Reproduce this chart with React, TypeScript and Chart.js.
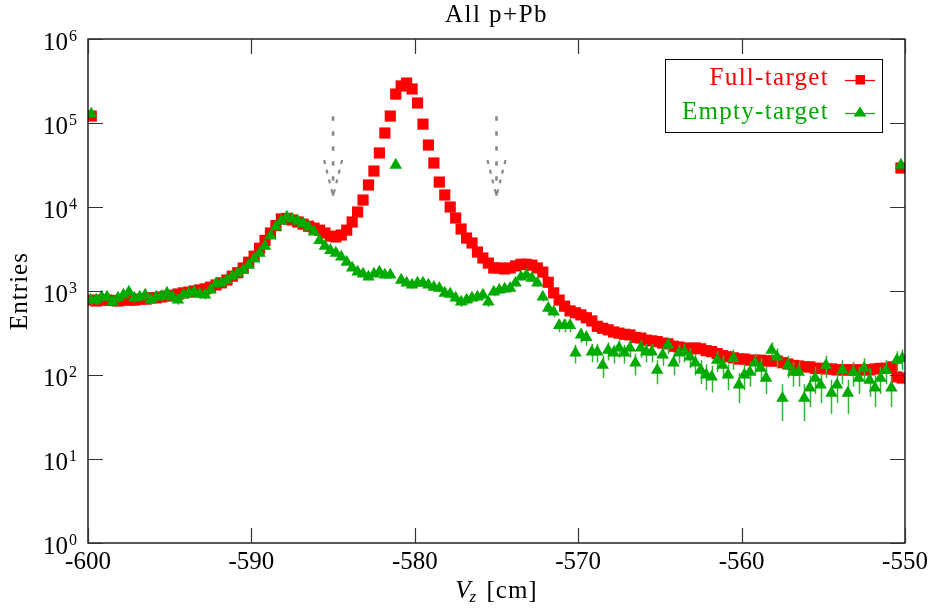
import React, { useEffect, useRef } from "react";
import { Chart, registerables } from "chart.js";

Chart.register(...registerables);

// ---------------- data ----------------
const X_MIN = -600;
const X_MAX = -550;
const BIN_WIDTH = 1 / 3;
const Y_MIN = 1;
const Y_MAX = 1e6;
const X_TICKS = [-600, -590, -580, -570, -560, -550];
const Y_EXPONENTS = [0, 1, 2, 3, 4, 5, 6];

const TITLE = "All p+Pb";
const Y_TITLE = "Entries";
const X_TITLE_MAIN = "V";
const X_TITLE_SUB = "z";
const X_TITLE_UNIT = " [cm]";
const LEGEND_LABELS = ["Full-target", "Empty-target"];

const fullTarget = [
  780, 760, 780, 780, 770, 760, 780, 780, 780, 800,
  800, 830, 830, 850, 870, 890, 920, 950, 970, 1000,
  1030, 1060, 1110, 1180, 1250, 1350, 1500, 1650, 1880, 2200,
  2600, 3230, 4000, 4900, 6000, 7200, 7300, 7000, 6630, 6250,
  5900, 5600, 5300, 4900, 4500, 4400, 4640, 5300, 6630, 8720,
  12100, 18300, 26800, 44000, 76000, 121000, 221000, 276000, 299000, 254000,
  173000, 97000, 54700, 33400, 19800, 13900, 10000, 7400, 5470, 4270,
  3730, 2910, 2470, 2150, 1880, 1880, 1830, 1880, 1990, 2080,
  2080, 2030, 1880, 1680, 1270, 950, 780, 660, 580, 550,
  520, 480, 440, 380, 360, 345, 325, 315, 305, 300,
  280, 275, 260, 255, 250, 240, 235, 220, 215, 210,
  205, 210, 205, 195, 190, 180, 170, 165, 160, 155,
  155, 150, 150, 150, 147, 147, 147, 140, 135, 130,
  128, 125, 125, 120, 120, 118, 118, 115, 115, 115,
  115, 115, 115, 115, 118, 120, 120, 125, 95, 92,
];

const emptyTarget = [
  781, 781, 848, 848, 740, 826, 896, 973, 826, 848,
  896, 781, 848, 870, 945, 848, 781, 896, 945, 973,
  920, 896, 1030, 1220, 1250, 1350, 1500, 1630, 1770, 2030,
  2410, 2830, 3430, 4530, 5800, 6800, 7600, 7200, 6800, 6400,
  5800, 5050, 4000, 3430, 3050, 2830, 2540, 2200, 1880, 1690,
  1600, 1470, 1600, 1690, 1550, 1550, 31600, 1350, 1250, 1180,
  1250, 1250, 1180, 1110, 1080, 945, 920, 826, 740, 781,
  826, 848, 896, 740, 973, 1030, 1060, 1080, 1250, 1470,
  1550, 1420, 1250, 848, 625, 565, 390, 390, 390, 183,
  300, 280, 188, 188, 131, 197, 183, 210, 183, 210,
  139, 210, 188, 188, 114, 173, 228, 139, 183, 188,
  164, 139, 114, 100, 95, 150, 131, 100, 158, 76,
  100, 108, 139, 121, 92, 197, 164, 53, 131, 108,
  108, 53, 70, 92, 76, 131, 61, 76, 114, 61,
  108, 92, 121, 87, 70, 92, 114, 70, 150, 158,
];

// under/overflow entries drawn at the histogram edges
const edgeX = [-599.8, -550.25];
const fullEdge = [121000, 29100];
const emptyEdge = [128000, 31600];

// Poisson-like error scale for the empty-target histogram
const EMPTY_ERR_SCALE = 11.6;

// dashed arrows marking the target window
const arrowX = [-585, -575];
const arrowTop = 1.2e5;
const arrowTip = 1.35e4;

// ---------------- styles ----------------
const RED = "#ff0000";
const GREEN = "#00aa00";
const FONT = '"Liberation Serif", "DejaVu Serif", serif';

function toPoints(vals: number[], edges: number[]) {
  const pts = vals.map((v, i) => ({ x: X_MIN + (i + 0.5) * BIN_WIDTH, y: v }));
  return pts.concat(edgeX.map((x, j) => ({ x, y: edges[j] })));
}

const decorPlugin = {
  id: "decor",
  beforeDatasetDraw(chart: any, args: any) {
    if (args.index !== 0) return;
    const { ctx, chartArea } = chart;
    const xs = chart.scales.x;
    const ys = chart.scales.y;
    ctx.save();
    ctx.beginPath();
    ctx.rect(chartArea.left, chartArea.top, chartArea.right - chartArea.left, chartArea.bottom - chartArea.top);
    ctx.clip();
    ctx.strokeStyle = "#2fb52f";
    ctx.lineWidth = 1.5;
    const data = chart.data.datasets[0].data as { x: number; y: number }[];
    data.forEach((p) => {
      const err = Math.sqrt(EMPTY_ERR_SCALE * p.y);
      const px = Math.round(xs.getPixelForValue(p.x)) + 0.5;
      const lo = Math.max(p.y - err, Y_MIN);
      ctx.beginPath();
      ctx.moveTo(px, ys.getPixelForValue(p.y + err));
      ctx.lineTo(px, ys.getPixelForValue(lo));
      ctx.stroke();
    });
    ctx.restore();
  },
  afterDatasetsDraw(chart: any) {
    const { ctx, chartArea } = chart;
    const xs = chart.scales.x;
    const ys = chart.scales.y;
    const { left, right, top, bottom } = chartArea;
    ctx.save();

    // arrows
    ctx.strokeStyle = "#888888";
    ctx.lineWidth = 2.6;
    arrowX.forEach((ax) => {
      const px = xs.getPixelForValue(ax);
      const yT = ys.getPixelForValue(arrowTop);
      const yB = ys.getPixelForValue(arrowTip);
      ctx.setLineDash([4.5, 10.5]);
      ctx.beginPath();
      ctx.moveTo(px, yT);
      ctx.lineTo(px, yB);
      ctx.stroke();
      ctx.setLineDash([4, 6]);
      ctx.lineWidth = 2.2;
      ctx.beginPath();
      ctx.moveTo(px - 9, yB - 36);
      ctx.lineTo(px, yB);
      ctx.moveTo(px + 9, yB - 36);
      ctx.lineTo(px, yB);
      ctx.stroke();
      ctx.lineWidth = 2.6;
    });
    ctx.setLineDash([]);

    // frame
    ctx.strokeStyle = "#000";
    ctx.lineWidth = 1.3;
    ctx.strokeRect(left, top, right - left, bottom - top);

    // ticks
    ctx.strokeStyle = "#333";
    ctx.lineWidth = 1.2;
    const TL = 15;
    X_TICKS.forEach((v) => {
      const px = Math.round(xs.getPixelForValue(v)) + 0.5;
      ctx.beginPath();
      ctx.moveTo(px, bottom);
      ctx.lineTo(px, bottom - TL);
      ctx.moveTo(px, top);
      ctx.lineTo(px, top + TL);
      ctx.stroke();
    });
    Y_EXPONENTS.forEach((e) => {
      const py = Math.round(ys.getPixelForValue(Math.pow(10, e))) + 0.5;
      ctx.beginPath();
      ctx.moveTo(left, py);
      ctx.lineTo(left + TL, py);
      ctx.moveTo(right, py);
      ctx.lineTo(right - TL, py);
      ctx.stroke();
    });

    // tick labels
    ctx.fillStyle = "#000";
    ctx.textBaseline = "alphabetic";
    ctx.font = `25px ${FONT}`;
    ctx.textAlign = "center";
    X_TICKS.forEach((v) => {
      ctx.fillText(String(v), xs.getPixelForValue(v), bottom + 26);
    });
    Y_EXPONENTS.forEach((e) => {
      const py = ys.getPixelForValue(Math.pow(10, e));
      ctx.font = `16px ${FONT}`;
      const expStr = String(e);
      const ew = ctx.measureText(expStr).width;
      ctx.font = `25px ${FONT}`;
      const bw = ctx.measureText("10").width;
      const xEnd = left - 11;
      ctx.textAlign = "left";
      ctx.fillText("10", xEnd - ew - 1 - bw, py + 11);
      ctx.font = `16px ${FONT}`;
      ctx.fillText(expStr, xEnd - ew, py + 2);
    });

    // title
    const cx = (left + right) / 2;
    ctx.font = `25px ${FONT}`;
    ctx.textAlign = "center";
    (ctx as any).letterSpacing = "1.5px";
    ctx.fillText(TITLE, cx, 22);

    // x title
    (ctx as any).letterSpacing = "0px";
    ctx.font = `italic 25px ${FONT}`;
    const wV = ctx.measureText(X_TITLE_MAIN).width;
    ctx.font = `italic 17px ${FONT}`;
    const wZ = ctx.measureText(X_TITLE_SUB).width;
    ctx.font = `25px ${FONT}`;
    (ctx as any).letterSpacing = "1px";
    const wU = ctx.measureText(X_TITLE_UNIT).width;
    const total = wV + wZ + 2 + wU;
    let xx = cx - total / 2;
    ctx.textAlign = "left";
    (ctx as any).letterSpacing = "0px";
    ctx.font = `italic 25px ${FONT}`;
    ctx.fillText(X_TITLE_MAIN, xx, 598);
    xx += wV;
    ctx.font = `italic 17px ${FONT}`;
    ctx.fillText(X_TITLE_SUB, xx - 1, 602);
    xx += wZ + 2;
    ctx.font = `25px ${FONT}`;
    (ctx as any).letterSpacing = "1px";
    ctx.fillText(X_TITLE_UNIT, xx, 598);

    // y title
    ctx.save();
    ctx.translate(20, (top + bottom) / 2);
    ctx.rotate(-Math.PI / 2);
    ctx.textAlign = "center";
    ctx.textBaseline = "middle";
    (ctx as any).letterSpacing = "1px";
    ctx.font = `25px ${FONT}`;
    ctx.fillText(Y_TITLE, 0, 0);
    ctx.restore();

    // legend
    (ctx as any).letterSpacing = "1.3px";
    ctx.strokeStyle = "#000";
    ctx.lineWidth = 1;
    ctx.strokeRect(665.5, 59.5, 217, 73);
    ctx.font = `25px ${FONT}`;
    ctx.textAlign = "right";
    ctx.textBaseline = "alphabetic";
    const rows = [
      { label: LEGEND_LABELS[0], color: RED, y: 79.5, base: 84.5, kind: "rect" },
      { label: LEGEND_LABELS[1], color: GREEN, y: 112.5, base: 118.5, kind: "tri" },
    ];
    rows.forEach((r) => {
      ctx.fillStyle = r.color;
      ctx.fillText(r.label, 829, r.base);
      ctx.strokeStyle = r.color;
      ctx.lineWidth = 1.2;
      ctx.beginPath();
      ctx.moveTo(845, Math.round(r.y) + 0.5);
      ctx.lineTo(875, Math.round(r.y) + 0.5);
      ctx.stroke();
      ctx.beginPath();
      if (r.kind === "rect") {
        ctx.rect(855.5, r.y - 4.5, 9.5, 9.5);
      } else {
        ctx.moveTo(860, r.y - 6);
        ctx.lineTo(866.5, r.y + 4);
        ctx.lineTo(853.5, r.y + 4);
        ctx.closePath();
      }
      ctx.fill();
    });
    ctx.restore();
  },
};

export default function App() {
  const canvasRef = useRef<HTMLCanvasElement | null>(null);

  useEffect(() => {
    const canvas = canvasRef.current;
    if (!canvas) return;
    const chart = new Chart(canvas, {
      type: "scatter",
      data: {
        datasets: [
          {
            label: LEGEND_LABELS[1],
            data: toPoints(emptyTarget, emptyEdge),
            pointStyle: "triangle",
            pointRadius: 7.2,
            pointBackgroundColor: GREEN,
            pointBorderColor: GREEN,
            pointBorderWidth: 0,
            order: 0,
            clip: 0,
          } as any,
          {
            label: LEGEND_LABELS[0],
            data: toPoints(fullTarget, fullEdge),
            pointStyle: "rect",
            pointRadius: 7.9,
            pointBackgroundColor: RED,
            pointBorderColor: RED,
            pointBorderWidth: 0,
            order: 1,
            clip: 0,
          } as any,
        ],
      },
      options: {
        animation: false,
        responsive: false,
        events: [],
        layout: { padding: { top: 39, right: 26, bottom: 0, left: 0 } },
        plugins: {
          legend: { display: false },
          title: { display: false },
          tooltip: { enabled: false },
        },
        scales: {
          x: {
            type: "linear",
            min: X_MIN,
            max: X_MAX,
            ticks: { display: false },
            grid: { display: false },
            border: { display: false },
            afterFit: (s: any) => {
              s.height = 66;
            },
          },
          y: {
            type: "logarithmic",
            min: Y_MIN,
            max: Y_MAX,
            ticks: { display: false },
            grid: { display: false },
            border: { display: false },
            afterFit: (s: any) => {
              s.width = 88;
            },
          },
        },
      },
      plugins: [decorPlugin],
    });
    return () => chart.destroy();
  }, []);

  return (
    <div style={{ position: "fixed", left: 0, top: 0, width: 931, height: 609, background: "#fff" }}>
      <canvas ref={canvasRef} width={931} height={609} style={{ display: "block" }} />
    </div>
  );
}
